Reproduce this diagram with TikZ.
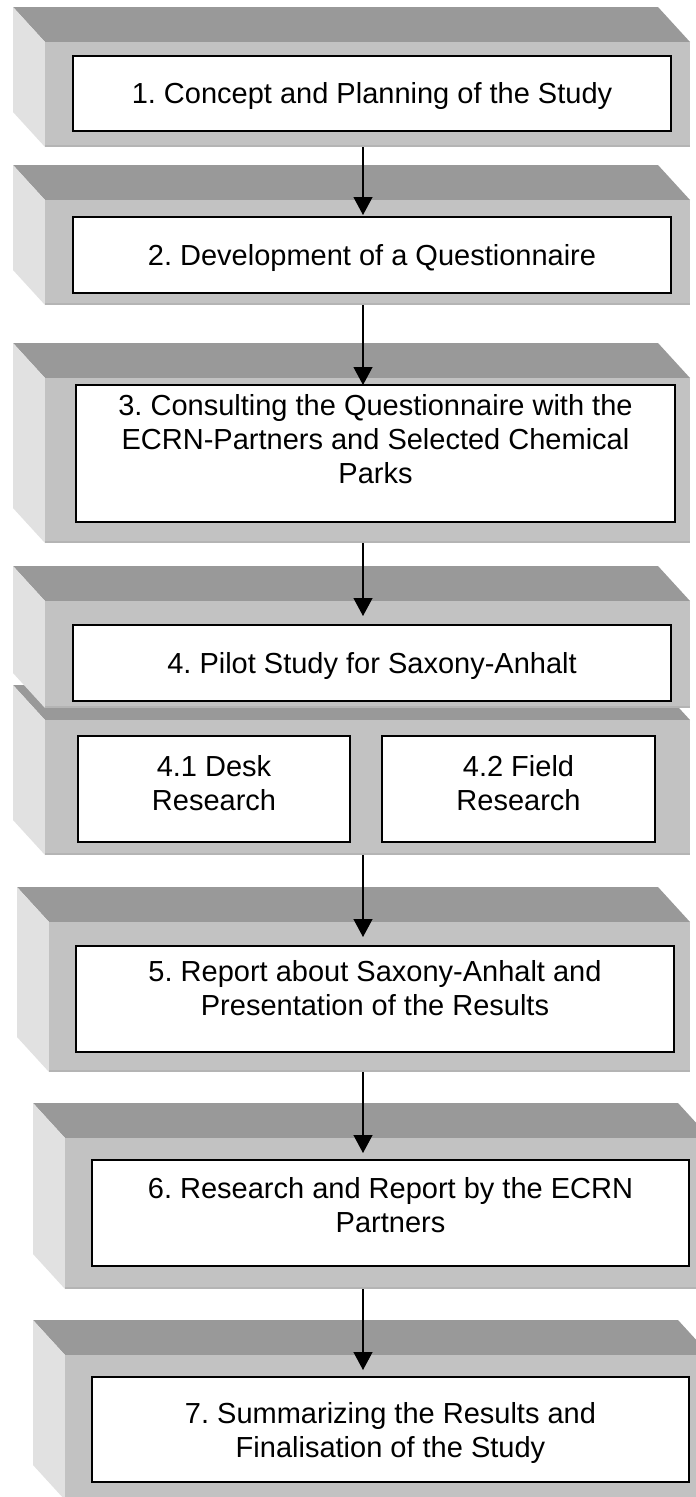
\documentclass[tikz,border=0pt]{standalone}
\usepackage{fontspec}
\setmainfont{Liberation Sans}
\frenchspacing
\usetikzlibrary{arrows.meta,positioning}
\definecolor{slabtop}{RGB}{153,153,153}
\definecolor{slabface}{RGB}{194,194,194}
\definecolor{slabside}{RGB}{225,225,225}
\definecolor{slabrim}{RGB}{180,180,180}

% 3d slab: name, left, top, width, height of the front face
\newcommand{\slab}[5]{%
  \fill[slabtop] (#2,#3) -- ++(-32,-35) -- ++(#4,0) -- ++(32,35) -- cycle;
  \fill[slabside] (#2,#3) -- ++(-32,-35) -- ++(0,#5) -- ++(32,35) -- cycle;
  \node[slabfront,minimum width=#4pt,minimum height=#5pt] (#1) at (#2,#3) {};
  \draw[slabrim,line width=2pt] ([yshift=1pt]#1.south west) -- ([yshift=1pt]#1.south east);
}

\begin{document}
\begin{tikzpicture}[
  x=1pt,y=-1pt,
  every node/.style={font=\fontsize{29}{34}\selectfont},
  slabfront/.style={fill=slabface,anchor=north west,inner sep=0,outer sep=0},
  stagebox/.style={draw=black,fill=white,line width=1.2pt,anchor=north west,inner sep=0,outer sep=0},
  stagetext/.style={align=center,inner sep=0},
  arrow/.style={-{Triangle[length=18pt,width=19pt]},line width=1.2pt}
]
\path[use as bounding box,fill=white] (0,0) rectangle (696,1497);
\clip (0,0) rectangle (696,1497);
\coordinate (spine) at (363,0);

% slabs
\slab{s1}{45}{42}{645}{105}
\slab{s2}{45}{200}{645}{105}
\slab{s3}{45}{378}{645}{165}
\slab{s4b}{45}{720}{645}{135}
\slab{s4}{45}{601}{645}{107}
\slab{s5}{49}{922}{641}{150}
\slab{s6}{65}{1138}{645}{151}
\slab{s7}{65}{1355}{645}{145}

% stages
\node[stagebox,minimum width=598pt,minimum height=75pt] (w1) at (73,56) {};
\node[stagetext,below=26pt of w1.north] (t1) {1. Concept and Planning of the Study};
\node[stagebox,minimum width=598pt,minimum height=76pt] (w2) at (73,217) {};
\node[stagetext,below=27pt of w2.north] (t2) {2. Development of a Questionnaire};
\node[stagebox,minimum width=599pt,minimum height=137pt] (w3) at (76,385) {};
\node[stagetext,below=9pt of w3.north] (t3) {3. Consulting the Questionnaire with the\\ECRN-Partners and Selected Chemical\\Parks};
\node[stagebox,minimum width=598pt,minimum height=76pt] (w4) at (73,625) {};
\node[stagetext,below=27pt of w4.north] (t4) {4. Pilot Study for Saxony-Anhalt};
\node[stagebox,minimum width=272pt,minimum height=106pt] (w41) at (78,736) {};
\node[stagetext,below=19pt of w41.north] (t41) {4.1 Desk\\Research};
\node[stagebox,minimum width=273pt,minimum height=106pt] (w42) at (382,736) {};
\node[stagetext,below=19pt of w42.north] (t42) {4.2 Field\\Research};
\node[stagebox,minimum width=598pt,minimum height=106pt] (w5) at (76,946) {};
\node[stagetext,below=14pt of w5.north] (t5) {5. Report about Saxony-Anhalt and\\Presentation of the Results};
\node[stagebox,minimum width=597pt,minimum height=106pt] (w6) at (92,1160) {};
\node[stagetext,below=17pt of w6.north] (t6) {6. Research and Report by the ECRN\\Partners};
\node[stagebox,minimum width=597pt,minimum height=105pt] (w7) at (92,1377) {};
\node[stagetext,below=25pt of w7.north] (t7) {7. Summarizing the Results and\\Finalisation of the Study};

% flow
\draw[arrow] (s1.south -| spine) -- ([yshift=-15pt]s2.north -| spine);
\draw[arrow] (s2.south -| spine) -- (w3.north -| spine);
\draw[arrow] (s3.south -| spine) -- ([yshift=-15pt]s4.north -| spine);
\draw[arrow] (s4b.south -| spine) -- ([yshift=-15pt]s5.north -| spine);
\draw[arrow] (s5.south -| spine) -- ([yshift=-15pt]s6.north -| spine);
\draw[arrow] (s6.south -| spine) -- ([yshift=-15pt]s7.north -| spine);
\end{tikzpicture}
\end{document}
